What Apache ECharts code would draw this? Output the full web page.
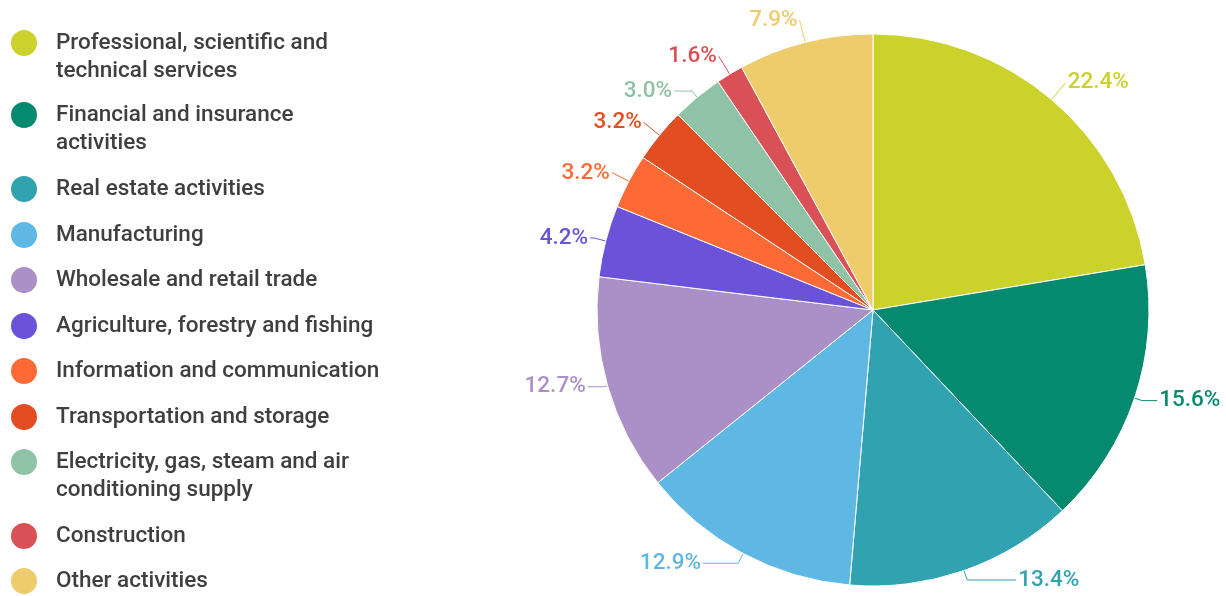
<!DOCTYPE html>
<html>
<head>
<meta charset="utf-8">
<script src="https://cdn.jsdelivr.net/npm/echarts@6/dist/echarts.min.js"></script>
<style>
  html, body { margin: 0; padding: 0; background: #fff; }
  #chart { width: 1226px; height: 596px; }
</style>
</head>
<body>
<div id="chart"></div>
<script>
// ---- data ----
const categories = [
  'Professional, scientific and technical services',
  'Financial and insurance activities',
  'Real estate activities',
  'Manufacturing',
  'Wholesale and retail trade',
  'Agriculture, forestry and fishing',
  'Information and communication',
  'Transportation and storage',
  'Electricity, gas, steam and air conditioning supply',
  'Construction',
  'Other activities'
];
const values = [22.4, 15.6, 13.4, 12.9, 12.7, 4.2, 3.2, 3.2, 3.0, 1.6, 7.9];
const legendLabels = [
  'Professional, scientific and\ntechnical services',
  'Financial and insurance\nactivities',
  'Real estate activities',
  'Manufacturing',
  'Wholesale and retail trade',
  'Agriculture, forestry and fishing',
  'Information and communication',
  'Transportation and storage',
  'Electricity, gas, steam and air\nconditioning supply',
  'Construction',
  'Other activities'
];

// ---- styles / layout ----
const colors = ['#cbd22c', '#058a6f', '#30a2b0', '#5fb7e3', '#aa90c6', '#6a52d9',
                '#fd6a36', '#e34d22', '#8fc2a7', '#d95157', '#eecb6b'];
const legendCenters = [43, 115, 188, 234, 279, 325, 370, 416, 462, 535, 580];
// label line lengths per slice [radial, horizontal]
const lineLens = [[22, 0], [8, 15], [10, 49], [11, 35], [4, 16], [12, 4],
                  [18, 1], [20, 0], [8, 18], [21, 0], [23, 0]];
const LH = 28, PADL = 13, ICON = 28;
const FONT = 'Roboto';
const FS = 22.5;

const legends = categories.map((name, i) => {
  const twoLine = legendLabels[i].indexOf('\n') >= 0;
  return {
    orient: 'vertical',
    left: 9,
    top: legendCenters[i] - ICON / 2 - (twoLine ? LH : 0),
    padding: 0,
    itemWidth: ICON,
    itemHeight: ICON,
    icon: 'circle',
    selectedMode: false,
    data: [name],
    // leading empty line keeps the first text line level with the icon
    formatter: () => (twoLine ? '\n' : '') + legendLabels[i],
    textStyle: {
      fontFamily: FONT, fontSize: FS, fontWeight: 500, lineHeight: LH,
      color: '#3f3f3f', padding: [0, 0, 0, PADL]
    }
  };
});

const chart = echarts.init(document.getElementById('chart'), null, { renderer: 'canvas' });
chart.setOption({
  backgroundColor: '#fff',
  animation: false,
  legend: legends,
  series: [{
    type: 'pie',
    center: [873, 310],
    radius: 276,
    startAngle: 90,
    clockwise: true,
    avoidLabelOverlap: false,
    itemStyle: { borderColor: '#fff', borderWidth: 1 },
    emphasis: { disabled: true },
    label: {
      show: true,
      position: 'outside',
      bleedMargin: 0,
      distanceToLabelLine: 2,
      fontFamily: FONT,
      fontSize: FS,
      fontWeight: 500,
      formatter: p => p.value.toFixed(1) + '%'
    },
    labelLine: { show: true, length: 12, length2: 8, lineStyle: { width: 1 } },
    data: categories.map((n, i) => ({
      name: n,
      value: values[i],
      itemStyle: { color: colors[i] },
      label: { color: colors[i] },
      labelLine: {
        length: lineLens[i][0], length2: lineLens[i][1],
        lineStyle: { color: colors[i] }
      }
    }))
  }]
});
</script>
</body>
</html>
